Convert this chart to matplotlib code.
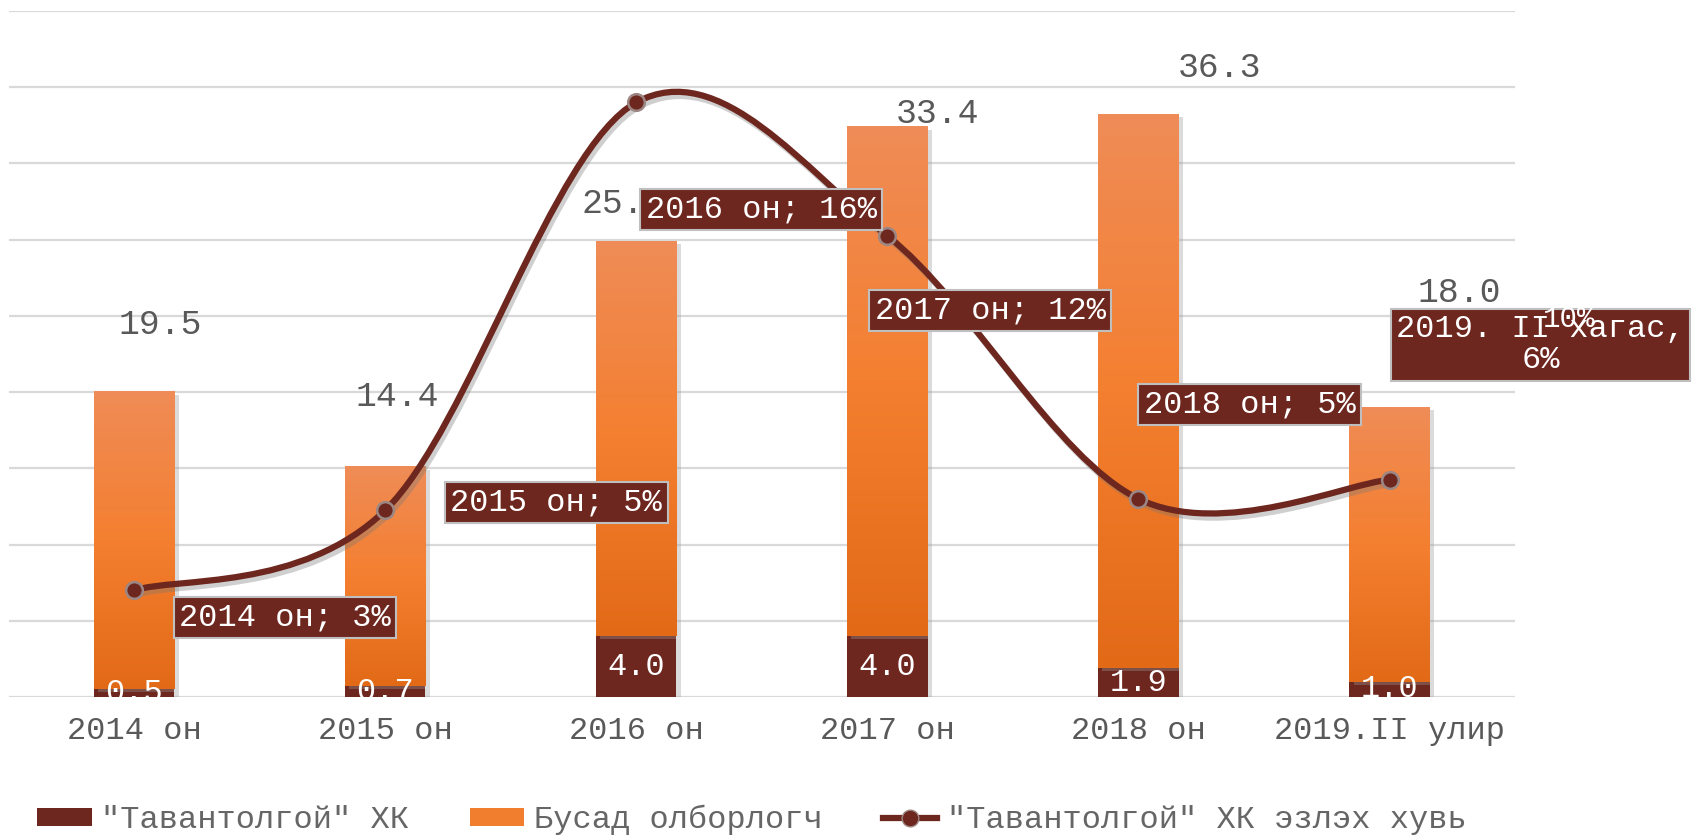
import numpy as np
import matplotlib
matplotlib.use("Agg")
import matplotlib.pyplot as plt
from matplotlib.colors import LinearSegmentedColormap
from matplotlib.patches import Patch, PathPatch
from matplotlib.lines import Line2D
from matplotlib.path import Path
import matplotlib.patheffects as pe

plt.rcParams['font.family'] = ['Liberation Mono', 'DejaVu Sans']

# ---------------------------------------------------------------------------
# Data
# ---------------------------------------------------------------------------
categories = ["2014 он", "2015 он", "2016 он", "2017 он", "2018 он", "2019.II улир"]
tavantolgoi = [0.5, 0.7, 4.0, 4.0, 1.9, 1.0]        # "Тавантолгой" ХК
others = [19.5, 14.4, 25.9, 33.4, 36.3, 18.0]       # Бусад олборлогч
share = [2.8, 4.9, 15.6, 12.1, 5.2, 5.7]            # эзлэх хувь, %
share_names = ["2014 он", "2015 он", "2016 он", "2017 он", "2018 он", "2019. II хагас,"]

series_names = ['"Тавантолгой" ХК', "Бусад олборлогч", '"Тавантолгой" ХК эзлэх хувь']

# label placement (pixel offsets, picked by eye)
other_lbl_off = [(26, 68), (12, 70), (-13, 38), (50, 13), (81, 47), (70, 115)]
share_lbl_off = [(151, -27), (171, 8), (125, -107), (103, -75), (111, 94), (151, 135)]

DARK = "#6D271F"
GREY_TXT = "#595959"
GRID = "#D9D9D9"
orange_cmap = LinearSegmentedColormap.from_list("bar", ["#EF8C57", "#F47F30", "#E26A17"])


def smooth_path(xs, ys):
    # Excel style smoothed line: cubic bezier segments (Catmull-Rom control points)
    pts = np.column_stack([xs, ys]).astype(float)
    n = len(pts)
    verts = [pts[0]]
    codes = [Path.MOVETO]
    for i in range(n - 1):
        p0 = pts[i - 1] if i > 0 else pts[i]
        p1 = pts[i]
        p2 = pts[i + 1]
        p3 = pts[i + 2] if i + 2 < n else pts[i + 1]
        c1 = p1 + (p2 - p0) / 6.0
        c2 = p2 - (p3 - p1) / 6.0
        verts += [c1, c2, p2]
        codes += [Path.CURVE4] * 3
    return Path(verts, codes)


fig = plt.figure(figsize=(16.93, 8.40), dpi=100)
ax = fig.add_axes([0.0051, 0.1702, 0.8898, 0.8168])
x = np.arange(len(categories))
width = 0.32

shadow = [pe.SimplePatchShadow(offset=(3, -2), shadow_rgbFace="#9a9a9a", alpha=0.35), pe.Normal()]
b1 = ax.bar(x, tavantolgoi, width, color=DARK, zorder=2, path_effects=shadow)
b2 = ax.bar(x, others, width, bottom=tavantolgoi, color="#F07E2E", zorder=2, path_effects=shadow)

# gradient fill for the orange bars
grad = np.linspace(0, 1, 256).reshape(-1, 1)
for r in b2:
    x0, y0 = r.get_x(), r.get_y()
    ax.imshow(grad, cmap=orange_cmap, aspect="auto", origin="upper",
              extent=[x0, x0 + r.get_width(), y0, y0 + r.get_height()], zorder=2.1)

for i, r in enumerate(b1):
    ax.text(r.get_x() + r.get_width() / 2, tavantolgoi[i] / 2, f"{tavantolgoi[i]:.1f}",
            ha="center", va="center", color="white", fontsize=23, zorder=3, clip_on=True)

for i, r in enumerate(b2):
    top = tavantolgoi[i] + others[i]
    ax.annotate(f"{others[i]:.1f}", (r.get_x() + r.get_width() / 2, top),
                xytext=other_lbl_off[i], textcoords="offset pixels",
                ha="center", va="center", color=GREY_TXT, fontsize=25, zorder=3)

ax.set_xlim(-0.5, len(categories) - 0.5)
ax.set_ylim(0, 45)
ax.set_yticks(np.arange(0, 46, 5))
ax.set_yticklabels([])
ax.tick_params(axis="y", length=0)
ax.grid(axis="y", color=GRID, linewidth=1.6)
ax.set_axisbelow(True)
ax.set_xticks(x)
ax.set_xticklabels(categories, fontsize=23, color=GREY_TXT)
ax.tick_params(axis="x", length=0, pad=14)
for s in ax.spines.values():
    s.set_visible(False)

# share line on secondary axis
ax2 = ax.twinx()
ax2.set_ylim(0, 18)
ax2.set_yticks(np.arange(0, 19, 2))
ax2.set_yticklabels([f"{v}%" for v in range(0, 19, 2)])
ax2.tick_params(axis="y", length=0, pad=20, labelsize=21, labelcolor="white")
ax2.yaxis.set_zorder(10)
for s in ax2.spines.values():
    s.set_visible(False)

curve = PathPatch(smooth_path(x, share), facecolor="none", edgecolor=DARK, linewidth=4.5,
                  capstyle="round", zorder=4,
                  path_effects=[pe.SimpleLineShadow(offset=(2, -3), shadow_color="#777777", alpha=0.35),
                                pe.Normal()])
ax2.add_patch(curve)
ax2.plot(x, share, "o", ms=12, mfc=DARK, mec="#9C8784", mew=1.8, zorder=5)

for i in range(len(share)):
    if i == len(share) - 1:
        txt = f"{share_names[i]}\n{share[i]:.0f}%"
    else:
        txt = f"{share_names[i]}; {share[i]:.0f}%"
    ax2.annotate(txt, (x[i], share[i]), xytext=share_lbl_off[i], textcoords="offset pixels",
                 ha="center", va="center", multialignment="center", color="white", fontsize=23,
                 linespacing=1.05, zorder=6,
                 bbox=dict(boxstyle="square,pad=0.17", facecolor=DARK, edgecolor="#BFBFBF", linewidth=1.5))

handles = [Patch(facecolor=DARK), Patch(facecolor="#F07E2E"),
           Line2D([], [], color=DARK, lw=4.5, marker="o", ms=12, mfc=DARK, mec="#9C8784")]
fig.legend(handles, series_names, loc="center left", bbox_to_anchor=(0.022, 0.024), ncol=3,
           frameon=False, fontsize=23, labelcolor="#666666", handlelength=1.7, handleheight=0.5,
           handletextpad=0.3, columnspacing=1.9, borderpad=0, borderaxespad=0)

fig.savefig("out.png", dpi=100)
